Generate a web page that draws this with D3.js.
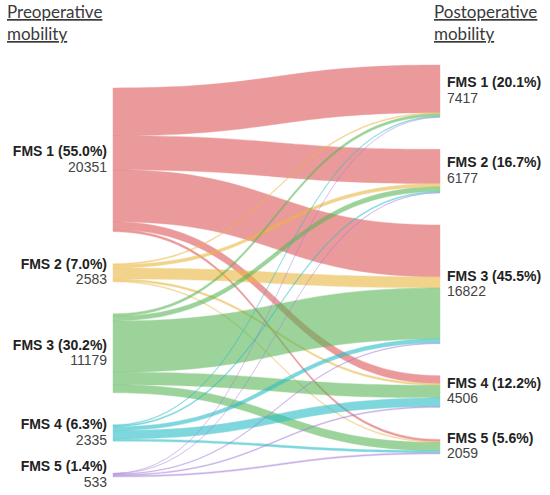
<!DOCTYPE html>
<html>
<head>
<meta charset="utf-8">
<script src="https://cdn.jsdelivr.net/npm/d3@7"></script>
<style>
  body { margin: 0; background: #fff; }
  #graf { width: 550px; height: 495px; }
  .titulo { font-family: Lato, 'Open Sans', sans-serif; font-size: 17px; fill: #3a3a3a; text-decoration: underline; }
  .nombre { font-family: 'Liberation Sans', Arial, sans-serif; font-size: 14px; font-weight: bold; fill: #222; }
  .valor { font-family: 'Liberation Sans', Arial, sans-serif; font-size: 14px; fill: #444; }
</style>
</head>
<body>
<div id="graf"></div>
<script>
// I. Datos
categorias = ['FMS 1', 'FMS 2', 'FMS 3', 'FMS 4', 'FMS 5']
pctPre  = ['55.0%', '7.0%', '30.2%', '6.3%', '1.4%']
pctPost = ['20.1%', '16.7%', '45.5%', '12.2%', '5.6%']
totalPre  = [20351, 2583, 11179, 2335, 533]
totalPost = [7417, 6177, 16822, 4506, 2059]

// flujos[i][j]: de pre FMS i+1 a post FMS j+1 (estimados)
flujoFMS1 = [6750, 4850, 7350, 1100, 301]
flujoFMS2 = [160, 450, 1570, 270, 133]
flujoFMS3 = [347, 657, 7252, 1786, 1137]
flujoFMS4 = [120, 170, 550, 1200, 295]
flujoFMS5 = [40, 50, 100, 150, 193]
flujos = [flujoFMS1, flujoFMS2, flujoFMS3, flujoFMS4, flujoFMS5]

// II. Configuración
ancho_total = 550
alto_total = 495
padding = 32
topPre = 88
topPost = 65

svg = d3.select('#graf').append('svg')
        .attr('width', ancho_total)
        .attr('height', alto_total)

total = d3.sum(totalPre)

h = d3.scaleLinear()
      .domain([0, total])
      .range([0, 261])

x = d3.scalePoint()
      .domain(['pre', 'post'])
      .range([113, 440])

color = d3.scaleOrdinal()
          .domain(categorias)
          .range(['#de585a', '#ebb741', '#5cb658', '#2abec5', '#a37bd9'])

function columna(totales, top) {
  let y = top
  return totales.map(v => {
    let n = { y0: y, y1: y + h(v) }
    y = n.y1 + padding
    return n
  })
}

nodosPre = columna(totalPre, topPre)
nodosPost = columna(totalPost, topPost)

// III. Enlaces
enlaces = []
offPre = nodosPre.map(n => n.y0)
offPost = nodosPost.map(n => n.y0)
flujos.forEach((fila, i) => {
  fila.forEach((v, j) => {
    enlaces.push({ i: i, j: j, v: v })
  })
})
// posición en el origen (orden por destino) y en el destino (orden por origen)
enlaces.forEach(d => {
  d.sy = offPre[d.i]; offPre[d.i] += h(d.v)
})
d3.range(5).forEach(j => {
  enlaces.filter(d => d.j == j).sort((a, b) => a.i - b.i).forEach(d => {
    d.ty = offPost[j]; offPost[j] += h(d.v)
  })
})

function cinta(d) {
  let x0 = x('pre'), x1 = x('post'), xm = (x0 + x1) / 2
  let w = h(d.v)
  return `M${x0},${d.sy}C${xm},${d.sy} ${xm},${d.ty} ${x1},${d.ty}` +
         `L${x1},${d.ty + w}C${xm},${d.ty + w} ${xm},${d.sy + w} ${x0},${d.sy + w}Z`
}

svg.append('g')
   .selectAll('path')
   .data(enlaces)
   .enter()
   .append('path')
     .attr('d', cinta)
     .style('fill', d => color(categorias[d.i]))
     .style('stroke', d => color(categorias[d.i]))
     .style('stroke-width', 0.4)
     .style('opacity', 0.6)

// IV. Etiquetas
function etiquetas(nodos, pct, totales, xt, anchor) {
  g = svg.append('g').attr('text-anchor', anchor)
  nodos.forEach((n, k) => {
    let c = (n.y0 + n.y1) / 2
    g.append('text')
     .attr('class', 'nombre')
     .attr('x', xt)
     .attr('y', c - 7.5)
     .attr('dominant-baseline', 'middle')
     .text(`${categorias[k]} (${pct[k]})`)
    g.append('text')
     .attr('class', 'valor')
     .attr('x', xt)
     .attr('y', c + 8)
     .attr('dominant-baseline', 'middle')
     .text(totales[k])
  })
}

etiquetas(nodosPre, pctPre, totalPre, 107, 'end')
etiquetas(nodosPost, pctPost, totalPost, 447, 'start')

// V. Títulos
;[['Preoperative', 'mobility', 7], ['Postoperative', 'mobility', 434]].forEach(t => {
  svg.append('text').attr('class', 'titulo').attr('x', t[2]).attr('y', 18).text(t[0])
  svg.append('text').attr('class', 'titulo').attr('x', t[2]).attr('y', 40).text(t[1])
})
</script>
</body>
</html>
